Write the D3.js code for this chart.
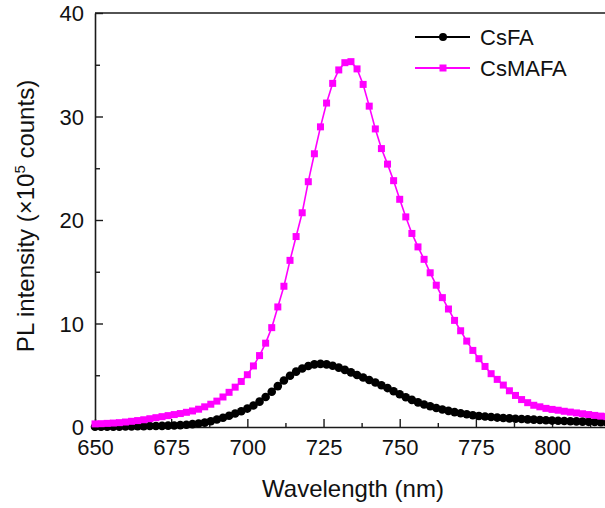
<!DOCTYPE html>
<html>
<head>
<meta charset="utf-8">
<script src="https://cdn.jsdelivr.net/npm/d3@7/dist/d3.min.js"></script>
<style>
  html, body { margin: 0; padding: 0; background: #fff; }
  svg { display: block; font-family: "Liberation Sans", Arial, Helvetica, sans-serif; }
</style>
</head>
<body>
<svg id="chart" width="605" height="508"></svg>
<script>
// Wavelength grid (nm), sampled every 2 nm
const wavelength = d3.range(650, 819, 2);

// PL intensity (x10^5 counts)
const csFA = [
  0.02, 0.02, 0.03, 0.03, 0.04, 0.05, 0.06, 0.07, 0.08, 0.09,
  0.10, 0.11, 0.13, 0.15, 0.18, 0.22, 0.28, 0.34, 0.42, 0.55,
  0.72, 0.90, 1.08, 1.30, 1.52, 1.78, 2.08, 2.45, 2.90, 3.40,
  3.95, 4.50, 4.95, 5.35, 5.65, 5.90, 6.05, 6.10, 6.05, 5.92,
  5.74, 5.52, 5.28, 5.03, 4.78, 4.54, 4.30, 4.04, 3.76, 3.46,
  3.16, 2.88, 2.62, 2.38, 2.18, 2.00, 1.84, 1.69, 1.56, 1.44,
  1.33, 1.23, 1.14, 1.07, 1.01, 0.96, 0.91, 0.87, 0.83, 0.80,
  0.77, 0.74, 0.71, 0.68, 0.65, 0.62, 0.60, 0.58, 0.56, 0.54,
  0.52, 0.50, 0.48, 0.47, 0.45
];

const csMAFA = [
  0.30, 0.32, 0.35, 0.38, 0.42, 0.48, 0.55, 0.62, 0.70, 0.80,
  0.90, 1.00, 1.10, 1.20, 1.30, 1.42, 1.55, 1.72, 1.95, 2.20,
  2.50, 2.90, 3.35, 3.85, 4.40, 5.05, 5.90, 6.90, 8.10, 9.60,
  11.60, 13.60, 16.10, 18.40, 20.70, 23.70, 26.40, 29.00, 31.30, 33.20,
  34.50, 35.20, 35.30, 34.60, 33.10, 31.00, 28.80, 26.90, 25.40, 23.80,
  22.00, 20.30, 18.70, 17.40, 16.20, 14.90, 13.70, 12.50, 11.40, 10.30,
  9.30, 8.30, 7.40, 6.60, 5.85, 5.15, 4.60, 4.05, 3.50, 3.05,
  2.65, 2.35, 2.10, 1.95, 1.80, 1.70, 1.62, 1.52, 1.44, 1.36,
  1.28, 1.20, 1.12, 1.05, 1.00
];

const xTickValues = [650, 675, 700, 725, 750, 775, 800];
const xMinorTicks = [662.5, 687.5, 712.5, 737.5, 762.5, 787.5, 812.5];
const yTickValues = [0, 10, 20, 30, 40];
const yMinorTicks = [5, 15, 25, 35];

const seriesNames = ["CsFA", "CsMAFA"];
const seriesColors = ["#000000", "#ff00ff"];

const svg = d3.select("#chart");
const plotLeft = 95, plotTop = 13, plotBottom = 427, plotRight = 613;

const x = d3.scaleLinear().domain([650, 820]).range([plotLeft, plotRight]);
const y = d3.scaleLinear().domain([0, 40]).range([plotBottom, plotTop]);

const axisColor = "#1a1a1a";
const tickFontSize = 22;
const titleFontSize = 24;

// Frame: top border
svg.append("line")
  .attr("x1", plotLeft).attr("x2", plotRight)
  .attr("y1", plotTop).attr("y2", plotTop)
  .attr("stroke", axisColor).attr("stroke-width", 1.6);

// Bottom axis, ticks pointing inward
const xAxis = svg.append("g").attr("transform", `translate(0,${plotBottom})`)
  .call(d3.axisBottom(x).tickValues(xTickValues).tickSizeInner(-8).tickSizeOuter(0).tickPadding(11));
svg.append("g").attr("transform", `translate(0,${plotBottom})`)
  .call(d3.axisBottom(x).tickValues(xMinorTicks).tickSizeInner(-4).tickSizeOuter(0).tickFormat(""))
  .call(g => g.select(".domain").remove());

// Left axis, ticks pointing inward
const yAxis = svg.append("g").attr("transform", `translate(${plotLeft},0)`)
  .call(d3.axisLeft(y).tickValues(yTickValues).tickSizeInner(-8).tickSizeOuter(0).tickPadding(11));
svg.append("g").attr("transform", `translate(${plotLeft},0)`)
  .call(d3.axisLeft(y).tickValues(yMinorTicks).tickSizeInner(-5).tickSizeOuter(0).tickFormat(""))
  .call(g => g.select(".domain").remove());

svg.selectAll(".domain").attr("stroke", axisColor).attr("stroke-width", 1.6);
svg.selectAll(".tick line").attr("stroke", axisColor).attr("stroke-width", 1.4);
svg.selectAll(".tick text").attr("fill", "#111").attr("font-size", tickFontSize)
  .attr("font-family", "'Liberation Sans', Arial, sans-serif");
xAxis.selectAll(".tick text").attr("dy", "0.76em");
yAxis.selectAll(".tick text").attr("dy", "0.36em");

// Axis titles
svg.append("text")
  .attr("x", 353).attr("y", 497)
  .attr("text-anchor", "middle")
  .attr("font-size", titleFontSize).attr("fill", "#111")
  .text("Wavelength (nm)");

const yTitle = svg.append("text")
  .attr("transform", `translate(34,${(plotTop + plotBottom) / 2 - 4}) rotate(-90)`)
  .attr("text-anchor", "middle")
  .attr("font-size", titleFontSize).attr("fill", "#111");
yTitle.append("tspan").text("PL intensity (\u00d710");
yTitle.append("tspan").attr("dy", -9).attr("font-size", 15).text("5");
yTitle.append("tspan").attr("dy", 9).text(" counts)");

// Series
const line = d3.line().x((d, i) => x(wavelength[i])).y(d => y(d));

function drawCsFA(g) {
  g.append("path").datum(csFA)
    .attr("d", line).attr("fill", "none")
    .attr("stroke", seriesColors[0]).attr("stroke-width", 2);
  g.selectAll("circle").data(csFA).join("circle")
    .attr("cx", (d, i) => x(wavelength[i]))
    .attr("cy", d => y(d))
    .attr("r", 4.3)
    .attr("fill", seriesColors[0]);
}

function drawCsMAFA(g) {
  const s = 7;
  g.append("path").datum(csMAFA)
    .attr("d", line).attr("fill", "none")
    .attr("stroke", seriesColors[1]).attr("stroke-width", 1.6);
  g.selectAll("rect").data(csMAFA).join("rect")
    .attr("x", (d, i) => x(wavelength[i]) - s / 2)
    .attr("y", d => y(d) - s / 2)
    .attr("width", s).attr("height", s)
    .attr("fill", seriesColors[1]);
}

drawCsFA(svg.append("g"));
drawCsMAFA(svg.append("g"));

// Legend
const legend = svg.append("g");
const legendRows = [37, 68];
seriesNames.forEach((name, i) => {
  const ly = legendRows[i];
  legend.append("line")
    .attr("x1", 415).attr("x2", 470).attr("y1", ly).attr("y2", ly)
    .attr("stroke", seriesColors[i]).attr("stroke-width", 1.8);
  if (i === 0) {
    legend.append("circle").attr("cx", 443).attr("cy", ly).attr("r", 4).attr("fill", seriesColors[i]);
  } else {
    legend.append("rect").attr("x", 443 - 3.5).attr("y", ly - 3.5)
      .attr("width", 7).attr("height", 7).attr("fill", seriesColors[i]);
  }
  legend.append("text")
    .attr("x", 480).attr("y", ly).attr("dy", "0.36em")
    .attr("font-size", 22).attr("fill", "#111")
    .text(name);
});
</script>
</body>
</html>
